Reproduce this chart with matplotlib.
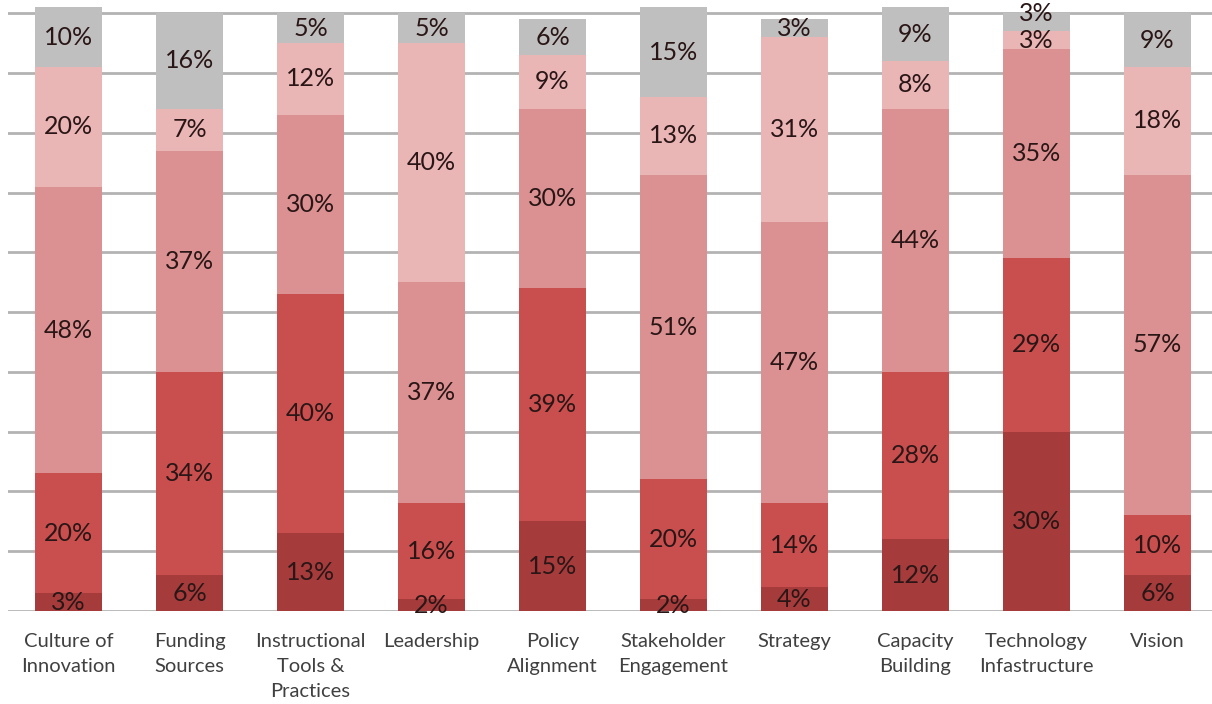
"""Stacked percentage bars by focus area."""

import matplotlib
matplotlib.use("Agg")
import matplotlib.pyplot as plt
import numpy as np

categories = ["Culture of\nInnovation", "Funding\nSources", "Instructional\nTools &\nPractices",
              "Leadership", "Policy\nAlignment", "Stakeholder\nEngagement", "Strategy",
              "Capacity\nBuilding", "Technology\nInfastructure", "Vision"]

# segments from bottom to top
level_1 = [3, 6, 13, 2, 15, 2, 4, 12, 30, 6]
level_2 = [20, 34, 40, 16, 39, 20, 14, 28, 29, 10]
level_3 = [48, 37, 30, 37, 30, 51, 47, 44, 35, 57]
level_4 = [20, 7, 12, 40, 9, 13, 31, 8, 3, 18]
level_5 = [10, 16, 5, 5, 6, 15, 3, 9, 3, 9]

series = [level_1, level_2, level_3, level_4, level_5]
colors = ['#a63b3b', '#c94f4e', '#db9191', '#eab5b5', '#bfbfbf']

plt.rcParams['font.family'] = ['Lato', 'DejaVu Sans']

fig = plt.figure(figsize=(12.12, 7.04), dpi=100)
ax = fig.add_axes([8 / 1212, 93 / 704, 1 - 8 / 1212, 611 / 704])

x = np.arange(len(categories))
bottom = np.zeros(len(categories))
last_label = np.full(len(categories), -100.0)
for vals, col in zip(series, colors):
    vals = np.array(vals, dtype=float)
    ax.bar(x, vals, bottom=bottom, width=0.555, color=col, zorder=2)
    for i, (xi, b, v) in enumerate(zip(x, bottom, vals)):
        y = b + v / 2
        # two thin segments in a row: push the upper label clear of the lower one
        if y - last_label[i] < 4.5:
            y = last_label[i] + 4.5
        last_label[i] = y
        ax.text(xi, y, f"{int(v)}%", ha='center', va='center',
                fontsize=18, color='#2a1616', zorder=3, clip_on=False)
    bottom += vals

# horizontal grid every 10%
for g in range(0, 101, 10):
    ax.axhline(g, color='#b3b3b3', linewidth=2, zorder=1)

ax.set_xlim(-0.5, 9.45)
ax.set_ylim(0, 102.2)
ax.set_yticks([])
ax.set_xticks(x)
ax.set_xticklabels(categories, fontsize=14.5, color='#404040', linespacing=1.55)
ax.tick_params(axis='x', length=0, pad=16)
for s in ax.spines.values():
    s.set_visible(False)

fig.savefig('out.png', dpi=100)
